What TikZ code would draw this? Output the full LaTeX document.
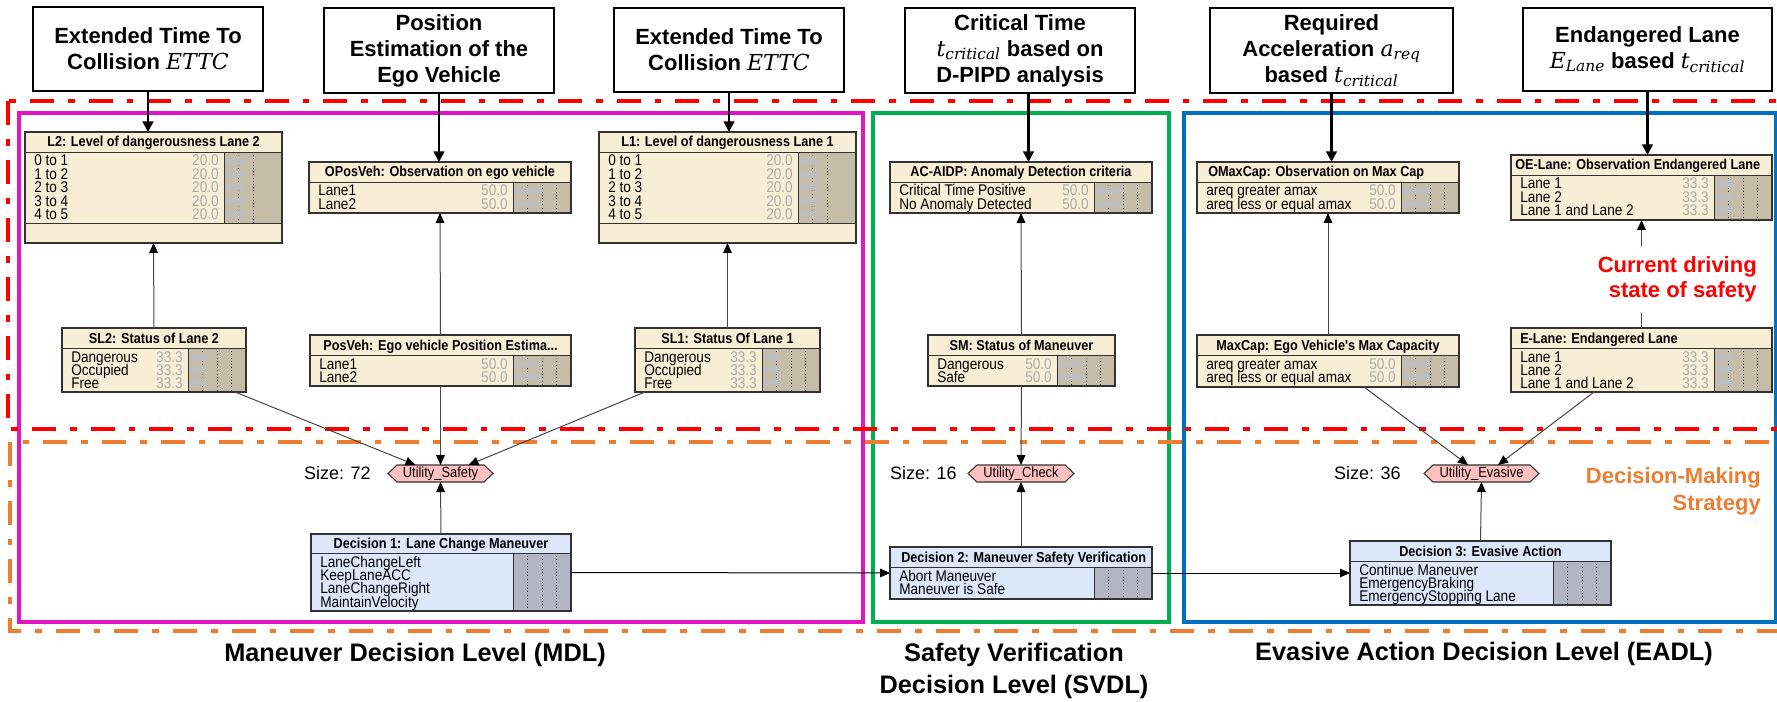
\documentclass[tikz,border=0pt]{standalone}
\usepackage{fontspec}
\setmainfont{Liberation Sans}
\newfontfamily\mathserif{DejaVu Serif}
\newfontfamily\narrowfont[FakeStretch=0.88]{Liberation Sans}
\usetikzlibrary{arrows.meta,calc}

\definecolor{natfill}{RGB}{248,238,213}
\definecolor{natgrey}{RGB}{197,189,168}
\definecolor{decfill}{RGB}{221,231,250}
\definecolor{decgrey}{RGB}{178,182,196}
\definecolor{barcol}{RGB}{190,190,190}
\definecolor{valcol}{RGB}{172,172,172}
\definecolor{nnborder}{RGB}{50,50,50}
\definecolor{utilfill}{RGB}{255,192,192}
\definecolor{mdlcol}{RGB}{226,20,196}
\definecolor{svdlcol}{RGB}{0,176,80}
\definecolor{eadlcol}{RGB}{0,112,192}
\definecolor{redcol}{RGB}{255,0,0}
\definecolor{orangecol}{RGB}{237,125,49}
\definecolor{linkcol}{RGB}{70,70,70}

\newcommand\rowfont{\narrowfont\fontsize{11.6}{12}\selectfont}
\newcommand\titlefont{\narrowfont\fontsize{10.8}{11}\selectfont\bfseries}
\newcommand\topfont{\fontsize{16.5}{19.5}\selectfont\bfseries}
\newcommand\utilfont{\narrowfont\fontsize{11}{12}\selectfont}
\newcommand\sizefont{\fontsize{13.5}{16}\selectfont}
\newcommand\mv[1]{{\mathserif\itshape\mdseries #1}}
\newcommand\mvs[2]{\mv{#1}\textsubscript{\mathserif\itshape\mdseries #2}}

\pgfkeys{/nn/.cd,
  fill/.store in=\nnfill, grey/.store in=\nngrey, bar/.store in=\nnbar,
  tleft/.store in=\nntleft, band/.store in=\nnband, lines/.store in=\nnlines,
  fill=natfill, grey=natgrey, bar=0, tleft=, band=0, lines={14.5,29,43.5}}

% [opts]{name}{x1}{y1}{x2}{y2}{ytitle}{title}{rows}
\newcommand\nnode[9][]{%
  \begin{scope}
  \pgfkeys{/nn/.cd,#1}%
  \pgfmathsetmacro\gx{#5-58}%
  \pgfmathsetmacro\yb{#6-\nnband}%
  \pgfmathsetmacro\nw{(#5-#3)*0.75}%
  \pgfmathsetmacro\nh{(#6-#4)*0.75}%
  \fill[\nnfill] (#3,#4) rectangle (#5,#6);
  \fill[\nngrey] (\gx,#7) rectangle (#5,\yb);
  \foreach \d in \nnlines {\draw[black, line width=0.4pt, dotted] (\gx+\d,#7) -- (\gx+\d,\yb);}
  \foreach \lab/\val [count=\i from 0] in {#9} {
    \pgfmathsetmacro\ry{#7+8.7+\i*13.35}
    \ifdim\nnbar pt>0pt \fill[barcol] (\gx,\ry-3) rectangle (\gx+\nnbar,\ry+3);\fi
    \node[anchor=base west, inner sep=0pt, font=\rowfont] (#2-l\i) at (#3+9,\ry+5.3) {\lab};
    \node[anchor=base east, inner sep=0pt, font=\rowfont, text=valcol] (#2-v\i) at (\gx-5,\ry+5.3) {\val};
  }
  \begin{scope}
    \clip (#3,#4) rectangle (#5,#7);
    \ifx\nntleft\empty
      \node[anchor=base, inner sep=0pt, font=\titlefont] (#2-t) at ({(#3+#5)/2},{(#4+#7)/2+5}) {#8};
    \else
      \node[anchor=base west, inner sep=0pt, font=\titlefont] (#2-t) at (#3+\nntleft,{(#4+#7)/2+5}) {#8};
    \fi
  \end{scope}
  \draw[nnborder, line width=0.6pt] (#3,#7) -- (#5,#7) (\gx,#7) -- (\gx,\yb);
  \ifdim\nnband pt>0pt \draw[nnborder, line width=0.6pt] (#3,\yb) -- (#5,\yb);\fi
  \node[draw=nnborder, line width=0.9pt, inner sep=0pt, outer sep=0pt, minimum width=\nw pt, minimum height=\nh pt, anchor=north west] (#2) at (#3,#4) {};
  \end{scope}}

% {name}{x1}{y1}{x2}{y2}{text}
\newcommand\tbox[6]{%
  \pgfmathsetmacro\tw{(#4-#2)*0.75}\pgfmathsetmacro\th{(#5-#3)*0.75}%
  \node[topbox, minimum width=\tw pt, minimum height=\th pt] (#1) at ({(#2+#4)/2},{(#3+#5)/2}) {#6};}

% {name}{cx}{cy}{w}{text}
\newcommand\utilnode[5]{%
  \filldraw[fill=utilfill, draw=nnborder, line width=0.8pt] (#2-#4/2,#3) -- (#2-#4/2+9,#3-8.5) -- (#2+#4/2-9,#3-8.5) -- (#2+#4/2,#3) -- (#2+#4/2-9,#3+8.5) -- (#2-#4/2+9,#3+8.5) -- cycle;
  \pgfmathsetmacro\uw{#4*0.75}%
  \node[inner sep=0pt, outer sep=0pt, minimum width=\uw pt, minimum height=12.75pt, font=\utilfont] (#1) at (#2,#3) {#5};}

\tikzset{
  topbox/.style={draw=black, line width=1.5pt, fill=white, align=center, font=\topfont, inner sep=0pt},
  toparrow/.style={draw=black, line width=1.8pt, -{Triangle[length=8pt,width=8pt]}},
  link/.style={draw=linkcol, line width=0.75pt, -{Triangle[length=7.5pt,width=6.5pt,color=black]}},
  plainlink/.style={draw=linkcol, line width=0.75pt},
  dlink/.style={draw=black, line width=0.75pt, -{Triangle[length=7.5pt,width=6.5pt]}},
  levelbox/.style={line width=2.6pt},
  dashdot/.style={line width=3.2pt, dash pattern=on 18pt off 10.5pt on 5pt off 10.5pt},
  botlabel/.style={font=\fontsize{19}{24}\selectfont\bfseries, align=center, inner sep=0pt},
  sizelabel/.style={font=\sizefont, anchor=east, inner sep=0pt}
}

\begin{document}
\begin{tikzpicture}[x=0.75pt,y=-0.75pt]
\useasboundingbox (0,0) rectangle (1777,702);
\clip (0,0) rectangle (1777,702);

% level frames
\draw[levelbox, draw=mdlcol] (19,113) rectangle (863,622);
\draw[levelbox, draw=svdlcol] (873,113) rectangle (1169,622);
\draw[levelbox, draw=eadlcol] (1184,113) rectangle (1776,622);
\draw[dashdot, draw=redcol] (8,101) rectangle (1815,429);
\draw[dashdot, draw=orangecol] (10,442) rectangle (1815,631);

% nature nodes
\nnode[bar=20, band=20, lines={14.5,29}]{L2}{25}{132}{282}{243}{152}{L2: Level of dangerousness Lane 2}
  {0 to 1/20.0, 1 to 2/20.0, 2 to 3/20.0, 3 to 4/20.0, 4 to 5/20.0}
\nnode[bar=29]{OPosVeh}{309}{162}{571}{213}{182}{OPosVeh: Observation on ego vehicle}
  {Lane1/50.0, Lane2/50.0}
\nnode[bar=20, band=20, lines={14.5,29}]{L1}{599}{132}{856}{243}{152}{L1: Level of dangerousness Lane 1}
  {0 to 1/20.0, 1 to 2/20.0, 2 to 3/20.0, 3 to 4/20.0, 4 to 5/20.0}
\nnode[bar=29]{AC}{890}{162}{1152}{213}{182}{AC-AIDP: Anomaly Detection criteria}
  {Critical Time Positive/50.0, No Anomaly Detected/50.0}
\nnode[bar=29, tleft=11]{OMaxCap}{1197}{162}{1459}{213}{182}{OMaxCap: Observation on Max Cap}
  {areq greater amax/50.0, areq less or equal amax/50.0}
\nnode[bar=19, tleft=4]{OELane}{1511}{155}{1772}{220}{175}{OE-Lane: Observation Endangered Lane}
  {Lane 1/33.3, Lane 2/33.3, Lane 1 and Lane 2/33.3}
\nnode[bar=19]{SL2}{62}{328}{246}{392}{348}{SL2: Status of Lane 2}
  {Dangerous/33.3, Occupied/33.3, Free/33.3}
\nnode[bar=29]{PosVeh}{310}{335}{571}{386}{355}{PosVeh: Ego vehicle Position Estima...}
  {Lane1/50.0, Lane2/50.0}
\nnode[bar=19]{SL1}{635}{328}{820}{392}{348}{SL1: Status Of Lane 1}
  {Dangerous/33.3, Occupied/33.3, Free/33.3}
\nnode[bar=29]{SM}{928}{335}{1115}{386}{355}{SM: Status of Maneuver}
  {Dangerous/50.0, Safe/50.0}
\nnode[bar=29]{MaxCap}{1197}{335}{1459}{387}{355}{MaxCap: Ego Vehicle's Max Capacity}
  {areq greater amax/50.0, areq less or equal amax/50.0}
\nnode[bar=19, tleft=9]{ELane}{1511}{328}{1772}{392}{348}{E-Lane: Endangered Lane}
  {Lane 1/33.3, Lane 2/33.3, Lane 1 and Lane 2/33.3}

% decision nodes
\nnode[fill=decfill, grey=decgrey]{D1}{311}{534}{571}{611}{553}{Decision 1: Lane Change Maneuver}
  {LaneChangeLeft/{}, KeepLaneACC/{}, LaneChangeRight/{}, MaintainVelocity/{}}
\nnode[fill=decfill, grey=decgrey, tleft=11]{D2}{890}{547}{1152}{599}{567}{Decision 2: Maneuver Safety Verification}
  {Abort Maneuver/{}, Maneuver is Safe/{}}
\nnode[fill=decfill, grey=decgrey]{D3}{1350}{541}{1611}{605}{561}{Decision 3: Evasive Action}
  {Continue Maneuver/{}, EmergencyBraking/{}, EmergencyStopping Lane/{}}

% utility nodes
\utilnode{US}{440.5}{473.5}{105}{Utility\_Safety}
\utilnode{UC}{1021}{473.5}{106}{Utility\_Check}
\utilnode{UE}{1481.5}{473.5}{115}{Utility\_Evasive}
\node[sizelabel] (SZ1) at (371,473) {Size: 72};
\node[sizelabel] (SZ2) at (957,473) {Size: 16};
\node[sizelabel] (SZ3) at (1401,473) {Size: 36};

% top evidence boxes
\tbox{T1}{33}{7}{263}{91}{Extended Time To\\Collision \mv{ETTC}}
\tbox{T2}{324}{8}{554}{93}{Position\\Estimation of the\\Ego Vehicle}
\tbox{T3}{614}{8}{844}{92}{Extended Time To\\Collision \mv{ETTC}}
\tbox{T4}{905}{8}{1135}{93}{Critical Time\\\mvs{t}{critical} based on\\D-PIPD analysis}
\tbox{T5}{1210}{8}{1453}{93}{Required\\Acceleration \mvs{a}{req}\\based \mvs{t}{critical}}
\tbox{T6}{1523}{8}{1772}{91}{Endangered Lane\\\mvs{E}{Lane} based \mvs{t}{critical}}

% texts
\node[anchor=east, align=right, text=redcol, font=\fontsize{16.5}{18.75}\selectfont\bfseries, inner xsep=0pt, inner ysep=8pt] (CDS) at (1757,279.5) {Current driving\\state of safety};
\node[anchor=east, align=right, text=orangecol, font=\fontsize{16.5}{20.25}\selectfont\bfseries, inner sep=0pt] (DMS) at (1761,491.5) {Decision-Making\\Strategy};
\node[botlabel] (LMDL) at (415,655) {Maneuver Decision Level (MDL)};
\node[botlabel] (LSVDL) at (1014,671) {Safety Verification\\Decision Level (SVDL)};
\node[botlabel] (LEADL) at (1484,654) {Evasive Action Decision Level (EADL)};

% evidence arrows
\draw[toparrow] (T1.south) -- (T1.south |- L2.north);
\draw[toparrow] (T2.south) -- (T2.south |- OPosVeh.north);
\draw[toparrow] (T3.south) -- (T3.south |- L1.north);
\coordinate (t4a) at ($(T4.south)+(8.5,0)$);
\draw[toparrow] (t4a) -- (t4a |- AC.north);
\draw[toparrow] (T5.south) -- (T5.south |- OMaxCap.north);
\draw[toparrow] (T6.south) -- (T6.south |- OELane.north);

% network links
\draw[link] (SL2.north) -- (L2.south);
\draw[link] (PosVeh.north) -- (OPosVeh.south);
\draw[link] (SL1.north) -- (L1.south);
\draw[link] (SM.north) -- (AC.south);
\draw[link] (MaxCap.north) -- (OMaxCap.south);
\draw[plainlink] (ELane.north) -- (ELane.north |- CDS.south);
\draw[link] (OELane.south |- CDS.north) -- (OELane.south);

\draw[link] ($(SL2.south east)+(-11,0)$) -- ($(US.north)+(-25,0)$);
\draw[link] (PosVeh.south) -- (US.north);
\draw[link] ($(SL1.south west)+(10,0)$) -- ($(US.north)+(28,0)$);
\draw[link] (D1.north) -- (US.south);
\draw[link] (SM.south) -- (UC.north);
\draw[link] (D2.north) -- (UC.south);
\draw[link] ($(MaxCap.south)+(36,0)$) -- ($(UE.north)+(-13.5,0)$);
\draw[link] ($(ELane.south west)+(83,0)$) -- ($(UE.north)+(16.5,0)$);
\draw[link] (D3.north) -- (UE.south);
\draw[dlink] (D1.east) -- (D2.west);
\draw[dlink] (D2.east) -- (D3.west);
\end{tikzpicture}
\end{document}
